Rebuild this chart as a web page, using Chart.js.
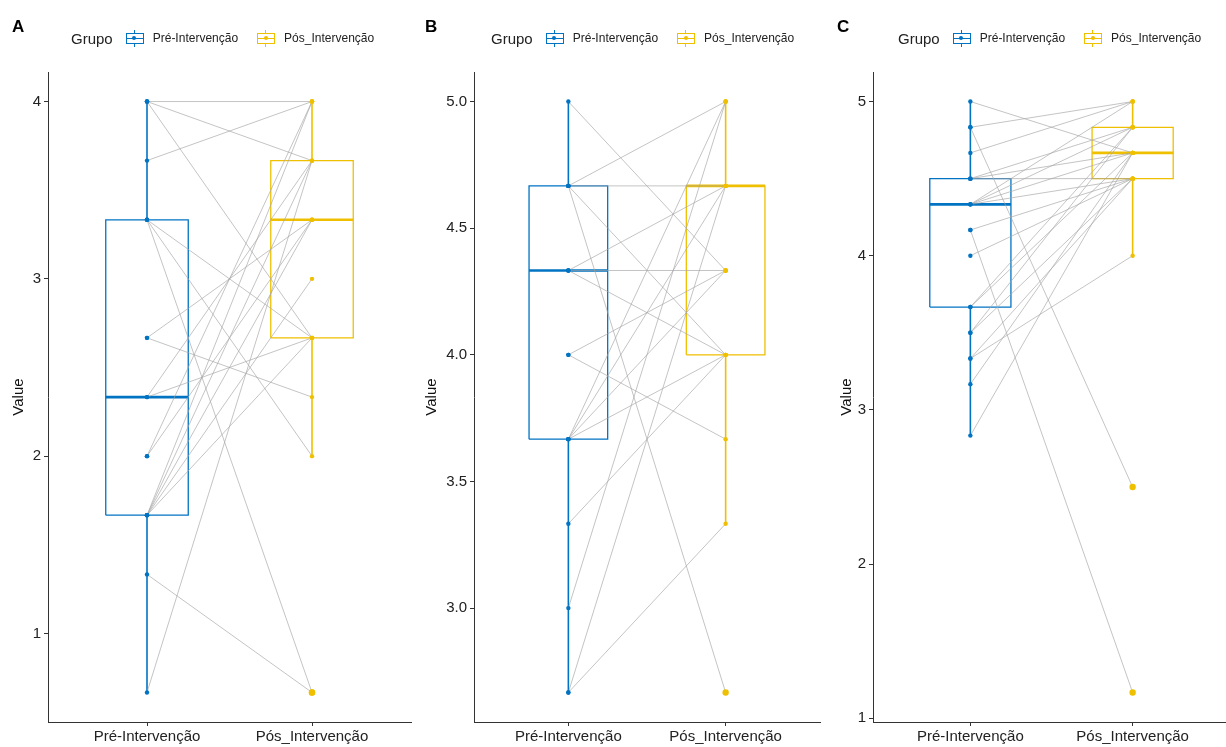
<!DOCTYPE html>
<html>
<head>
<meta charset="utf-8">
<script src="https://cdn.jsdelivr.net/npm/chart.js@4.4.1/dist/chart.umd.min.js"></script>
<style>
  html, body { margin: 0; padding: 0; background: #fff; overflow: hidden; }
  body { width: 1226px; height: 747px; position: relative; font-family: 'Liberation Sans', Arial, sans-serif; }
  canvas { position: absolute; top: 0; }
  .tag { position: absolute; top: 17px; font-weight: bold; font-size: 17px; color: #000; }
  .legend { position: absolute; top: 29px; height: 18px; display: flex; align-items: center; color: #222; white-space: nowrap; }
  .legend .ttl { font-size: 15px; margin-right: 13px; color: #222; }
  .legend .lab { font-size: 12px; margin-left: 9px; margin-right: 19px; }
  .key { position: relative; width: 18px; height: 17px; }
  .key .wh { position: absolute; left: 8px; top: 0; width: 1px; height: 17px; }
  .key .bx { position: absolute; left: 0; top: 3px; width: 16px; height: 9px; border: 1px solid; background: #fff; }
  .key .md { position: absolute; left: 0; top: 8px; width: 18px; height: 1px; }
  .key .dt { position: absolute; left: 6.5px; top: 6.5px; width: 4px; height: 4px; border-radius: 50%; }
</style>
</head>
<body>
<canvas id="chartA" width="415" height="747" style="left:0px"></canvas>
<canvas id="chartB" width="406" height="747" style="left:418px"></canvas>
<canvas id="chartC" width="409" height="747" style="left:825px"></canvas>
<div class="tag" style="left:12px">A</div>
<div class="tag" style="left:425px">B</div>
<div class="tag" style="left:837px">C</div>
<div class="legend" id="legA" style="left:71px"></div>
<div class="legend" id="legB" style="left:491px"></div>
<div class="legend" id="legC" style="left:898px"></div>

<script>
const categories = ['Pré-Intervenção', 'Pós_Intervenção'];
const groupColors = ['#0073C2', '#EFC000'];

// panel A - paired values (same index = same person)
const preA  = [4, 4, 4, 3.667, 3.333, 3.333, 3.333, 2.667, 2.667, 2.333, 2.333, 2, 2, 1.667, 1.667, 1.667, 1.667, 1.667, 1.333, 0.667];
const postA = [4, 3.667, 2.667, 4, 2.667, 2, 0.667, 3.333, 2.333, 2.667, 3.667, 3.333, 4, 2.667, 3, 3.333, 3.667, 4, 0.667, 3.667];
// box stats: whisker low, q1, median, q3, whisker high
const boxPreA  = [0.667, 1.667, 2.333, 3.333, 4];
const boxPostA = [2, 2.667, 3.333, 3.667, 4];
const ticksA = [1, 2, 3, 4];

// panel B
const preB  = [5, 4.667, 4.667, 4.667, 4.667, 4.333, 4.333, 4.333, 4, 4, 3.667, 3.667, 3.667, 3.667, 3.333, 3, 2.667, 2.667];
const postB = [4.333, 5, 4.667, 4, 2.667, 4.667, 4.333, 4, 4.333, 3.667, 5, 4.667, 4.333, 4, 4, 5, 3.333, 4.667];
const boxPreB  = [2.667, 3.667, 4.333, 4.667, 5];
const boxPostB = [3.333, 4, 4.667, 4.667, 5];
const ticksB = [3, 3.5, 4, 4.5, 5];

// panel C
const preC  = [5, 4.833, 4.833, 4.667, 4.5, 4.5, 4.5, 4.333, 4.333, 4.333, 4.333, 4.167, 4.167, 4, 3.667, 3.667, 3.5, 3.5, 3.333, 3.333, 3.167, 2.833];
const postC = [4.667, 5, 2.5, 5, 4.5, 4.833, 4.667, 5, 4.833, 4.667, 4.5, 4.5, 1.167, 4.5, 4.833, 4.667, 4.833, 4.5, 4, 4.5, 4.667, 4.667];
const boxPreC  = [2.833, 3.667, 4.333, 4.5, 5];
const boxPostC = [4, 4.5, 4.667, 4.833, 5];
const ticksC = [1, 2, 3, 4, 5];

Chart.defaults.font.family = "'Liberation Sans', Arial, sans-serif";

function buildLegend(id) {
    const el = document.getElementById(id);
    let html = '<span class="ttl">Grupo</span>';
    categories.forEach((c, i) => {
        const col = groupColors[i];
        html += '<span class="key">' +
            '<span class="wh" style="background:' + col + '"></span>' +
            '<span class="bx" style="border-color:' + col + '"></span>' +
            '<span class="md" style="background:' + col + '"></span>' +
            '<span class="dt" style="background:' + col + '"></span></span>' +
            '<span class="lab">' + c + '</span>';
    });
    el.innerHTML = html;
}

function makePanel(p) {
    const all = p.pre.concat(p.post);
    const lo = Math.min(...all), hi = Math.max(...all);
    const pad = (hi - lo) * 0.05;
    const datasets = [];
    const half = 0.25;

    // points
    [p.pre, p.post].forEach((vals, g) => {
        const box = p.boxes[g];
        datasets.push({
            data: vals.map(v => ({ x: g + 1, y: v })),
            backgroundColor: groupColors[g],
            borderWidth: 0,
            pointRadius: ctx => (ctx.raw && (ctx.raw.y < box[0] - 1e-6 || ctx.raw.y > box[4] + 1e-6)) ? 3.2 : 2.2,
            order: 0
        });
    });

    // paired lines
    p.pre.forEach((v, i) => {
        datasets.push({
            data: [{ x: 1, y: v }, { x: 2, y: p.post[i] }],
            showLine: true,
            borderColor: 'rgba(165,165,165,0.65)',
            borderWidth: 1,
            pointRadius: 0,
            order: 1
        });
    });

    // boxplots
    p.boxes.forEach((b, g) => {
        const c = g + 1;
        datasets.push({
            data: [{ x: c - half, y: b[1] }, { x: c + half, y: b[1] }, { x: c + half, y: b[3] }, { x: c - half, y: b[3] }, { x: c - half, y: b[1] }],
            showLine: true, borderColor: groupColors[g], borderWidth: 1.3, pointRadius: 0,
            borderJoinStyle: 'miter', order: 2
        });
        datasets.push({
            data: [{ x: c, y: b[0] }, { x: c, y: b[1] }, { x: c, y: null }, { x: c, y: b[3] }, { x: c, y: b[4] }],
            showLine: true, spanGaps: false, borderColor: groupColors[g], borderWidth: 1.6, pointRadius: 0, order: 2
        });
        datasets.push({
            data: [{ x: c - half, y: b[2] }, { x: c + half, y: b[2] }],
            showLine: true, borderColor: groupColors[g], borderWidth: 2.6, pointRadius: 0, order: 2
        });
    });

    new Chart(document.getElementById(p.id), {
        type: 'scatter',
        data: { datasets },
        options: {
            responsive: false,
            animation: false,
            layout: { padding: { top: 72, right: p.padRight, left: 0, bottom: 0 } },
            plugins: { legend: { display: false }, tooltip: { enabled: false } },
            scales: {
                x: {
                    type: 'linear', min: 0.4, max: 2.6,
                    afterBuildTicks: a => { a.ticks = [{ value: 1 }, { value: 2 }]; },
                    afterFit: s => { s.height = 25; },
                    ticks: { callback: v => categories[v - 1], font: { size: 15 }, color: '#222', padding: 2, maxRotation: 0, autoSkip: false },
                    grid: { drawOnChartArea: false, tickLength: 4, color: '#333' },
                    border: { color: '#333', width: 1 }
                },
                y: {
                    type: 'linear', min: lo - pad, max: hi + pad,
                    afterBuildTicks: a => { a.ticks = p.ticks.map(v => ({ value: v })); },
                    afterFit: s => { s.width = p.axisW; },
                    ticks: { callback: v => v.toFixed(p.digits), font: { size: 15 }, color: '#222', padding: 3 },
                    title: { display: true, text: 'Value', font: { size: 15 }, color: '#111', padding: { top: p.titlePad, bottom: 0 } },
                    grid: { drawOnChartArea: false, tickLength: 4, color: '#333' },
                    border: { color: '#333', width: 1 }
                }
            }
        }
    });
}

document.addEventListener('DOMContentLoaded', () => {
    ['legA', 'legB', 'legC'].forEach(buildLegend);
    makePanel({ id: 'chartA', pre: preA, post: postA, boxes: [boxPreA, boxPostA], ticks: ticksA, digits: 0, axisW: 48, titlePad: 10, padRight: 4 });
    makePanel({ id: 'chartB', pre: preB, post: postB, boxes: [boxPreB, boxPostB], ticks: ticksB, digits: 1, axisW: 56, titlePad: 5, padRight: 2 });
    makePanel({ id: 'chartC', pre: preC, post: postC, boxes: [boxPreC, boxPostC], ticks: ticksC, digits: 0, axisW: 48, titlePad: 13, padRight: 0 });
});
</script>
</body>
</html>
